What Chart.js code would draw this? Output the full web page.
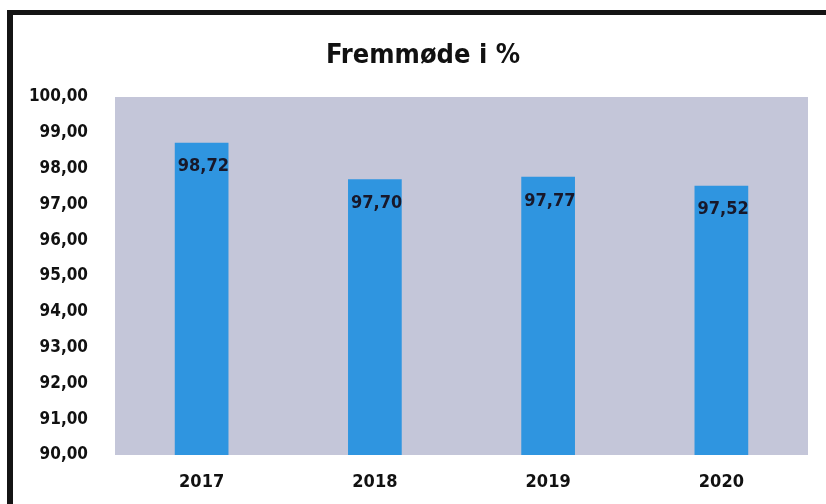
<!DOCTYPE html>
<html>
<head>
<meta charset="utf-8">
<script src="https://cdn.jsdelivr.net/npm/chart.js@4/dist/chart.umd.min.js"></script>
<style>
  html, body { margin: 0; padding: 0; background: #ffffff; }
  #wrap { position: relative; width: 826px; height: 504px; }
  #c { position: absolute; left: 0; top: 0; }
  #frame { position: absolute; left: 7px; top: 10px; width: 830px; height: 510px;
           border-top: 5px solid #141414; border-left: 6px solid #141414; box-sizing: border-box; }
</style>
</head>
<body>
<div id="wrap">
  <canvas id="c" width="826" height="504"></canvas>
  <div id="frame"></div>
</div>
<script>
const titleText = 'Fremmøde i %';
const categories = ['2017', '2018', '2019', '2020'];
const attendance = [98.72, 97.70, 97.77, 97.52];
const yMin = 90;
const yMax = 100;
const yStep = 1;

const FONT = "'DejaVu Sans Condensed', 'Liberation Sans', Arial, sans-serif";
const fmt = v => Number(v).toFixed(2).replace('.', ',');

const plotBg = {
  id: 'plotBg',
  beforeDraw(chart) {
    const a = chart.chartArea, ctx = chart.ctx;
    ctx.save();
    ctx.fillStyle = '#c4c6d9';
    ctx.fillRect(a.left, a.top, a.right - a.left, a.bottom - a.top);
    ctx.restore();
  }
};

const titleDraw = {
  id: 'titleDraw',
  afterDraw(chart) {
    const ctx = chart.ctx;
    ctx.save();
    ctx.fillStyle = '#111111';
    ctx.font = "bold 27px " + FONT;
    ctx.textAlign = 'center';
    ctx.textBaseline = 'middle';
    ctx.fillText(titleText, 423, 56);
    ctx.restore();
  }
};

const innerLabels = {
  id: 'innerLabels',
  afterDatasetsDraw(chart) {
    const ctx = chart.ctx;
    const meta = chart.getDatasetMeta(0);
    meta.data.forEach((bar, i) => {
      const left = bar.x - bar.width / 2;
      const top = bar.y;
      ctx.save();
      ctx.beginPath();
      ctx.rect(left, top, bar.width, bar.base - top);
      ctx.clip();
      ctx.fillStyle = '#18182a';
      ctx.font = "bold 18px " + FONT;
      ctx.textAlign = 'left';
      ctx.textBaseline = 'middle';
      ctx.fillText(fmt(chart.data.datasets[0].data[i]), left + 3, top + 24);
      ctx.restore();
    });
  }
};

new Chart(document.getElementById('c'), {
  type: 'bar',
  data: {
    labels: categories,
    datasets: [{
      data: attendance,
      backgroundColor: '#2f95e0',
      borderWidth: 0,
      barPercentage: 0.31,
      categoryPercentage: 1.0
    }]
  },
  options: {
    responsive: false,
    animation: false,
    layout: { padding: { left: 0, right: 18, top: 97, bottom: 0 } },
    plugins: {
      legend: { display: false },
      tooltip: { enabled: false },
      title: { display: false }
    },
    scales: {
      x: {
        grid: { display: false, drawTicks: false },
        border: { display: false },
        ticks: { color: '#111111', padding: 17, font: { family: FONT, size: 18, weight: 'bold' } },
        afterFit(s) { s.height = 49; }
      },
      y: {
        min: yMin,
        max: yMax,
        grid: { display: false, drawTicks: false },
        border: { display: false },
        ticks: {
          stepSize: yStep,
          color: '#111111',
          padding: 27,
          font: { family: FONT, size: 17, weight: 'bold' },
          callback: v => fmt(v)
        },
        afterFit(s) { s.width = 115; }
      }
    }
  },
  plugins: [plotBg, innerLabels, titleDraw]
});
</script>
</body>
</html>
